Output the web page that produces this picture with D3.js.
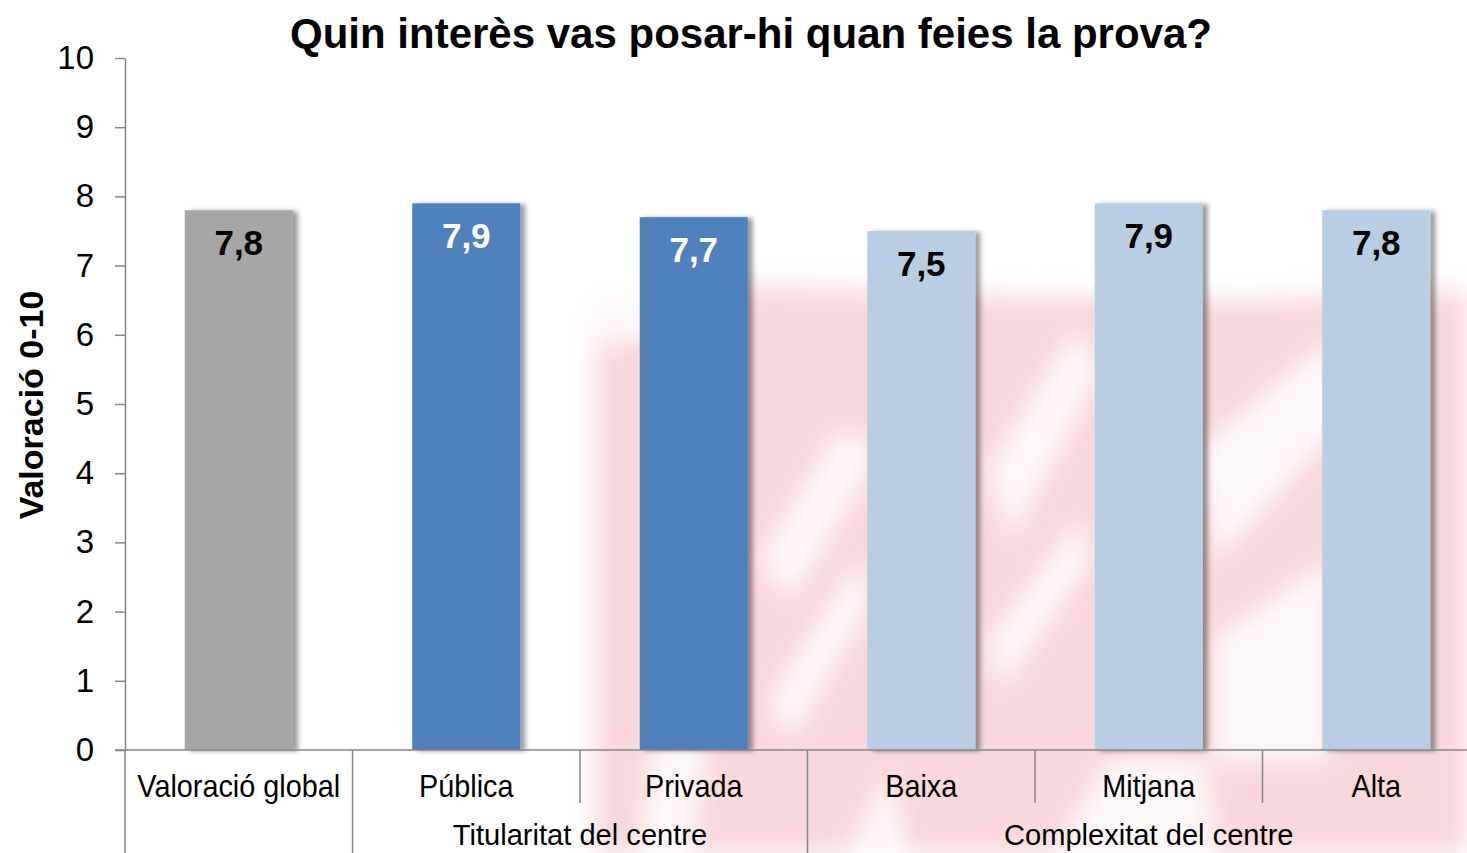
<!DOCTYPE html>
<html>
<head>
<meta charset="utf-8">
<script src="https://cdn.jsdelivr.net/npm/d3@7"></script>
<style>
  body { margin: 0; background: #fff; overflow: hidden; }
  text { font-family: "Liberation Sans", Arial, sans-serif; }
</style>
</head>
<body>
<script>
// chart data
var categories = ["Valoració global", "Pública", "Privada", "Baixa", "Mitjana", "Alta"];
var values = [7.8, 7.9, 7.7, 7.5, 7.9, 7.8];
var groups = ["", "Titularitat del centre", "Titularitat del centre",
              "Complexitat del centre", "Complexitat del centre", "Complexitat del centre"];
var barColors = ["#A6A6A6", "#4F81BD", "#4F81BD", "#B9CDE5", "#B9CDE5", "#B9CDE5"];
var labelColors = ["#000", "#fff", "#fff", "#000", "#000", "#000"];
var yTicks = [0, 1, 2, 3, 4, 5, 6, 7, 8, 9, 10];

var title = "Quin interès vas posar-hi quan feies la prova?",
    ylabel = "Valoració 0-10";

var width = 1467,
    height = 853,
    axisColor = "#868686";

var xScale = d3.scaleBand()
    .domain(categories)
    .range([125, 1490])
    .paddingInner(0.525)
    .paddingOuter(0.2625);

var yScale = d3.scaleLinear()
    .domain([0, 10])
    .range([750, 58]);

var svg = d3.select("body")
    .append("svg")
    .attr("width", width)
    .attr("height", height);

var defs = svg.append("defs");

defs.append("filter")
    .attr("id", "blur")
    .attr("x", "-20%").attr("y", "-20%")
    .attr("width", "140%").attr("height", "140%")
    .append("feGaussianBlur")
    .attr("stdDeviation", 12);

var shadow = defs.append("filter")
    .attr("id", "shadow")
    .attr("x", "-10%").attr("y", "-5%")
    .attr("width", "130%").attr("height", "110%");
shadow.append("feDropShadow")
    .attr("dx", 5).attr("dy", 1)
    .attr("stdDeviation", 2.5)
    .attr("flood-color", "#000")
    .attr("flood-opacity", 0.4);

// faint watermark in the background
var wm = svg.append("g").attr("filter", "url(#blur)");
wm.append("path")
    .attr("d", "M595,300 L760,285 L1000,295 L1250,300 L1467,290 L1467,853 L595,853 Z")
    .attr("fill", "#F8D3D8")
    .attr("opacity", 0.9);
// white streaks through the logo
var streaks = [
    "M640,853 L690,853 L710,720 L680,600 L655,720 Z",
    "M760,560 L840,430 L880,450 L790,600 Z",
    "M770,700 L860,560 L870,600 L790,740 Z",
    "M850,853 L905,853 L890,770 Z",
    "M1055,853 L1215,853 L1205,760 L1110,760 Z",
    "M1200,450 L1330,340 L1345,420 L1215,560 Z",
    "M1215,640 L1330,560 L1330,760 L1215,760 Z",
    "M990,470 L1075,330 L1100,370 L1010,540 Z",
    "M990,640 L1080,520 L1090,560 L1000,690 Z",
    "M595,300 L740,292 L700,330 L600,345 Z"
];
wm.selectAll("path.streak")
    .data(streaks)
    .enter()
    .append("path")
    .attr("class", "streak")
    .attr("d", function(d) { return d; })
    .attr("fill", "#fff")
    .attr("opacity", 0.85);

// y axis
var yAxis = svg.append("g")
    .attr("transform", "translate(125,0)")
    .call(d3.axisLeft(yScale)
        .tickValues(yTicks)
        .tickSize(10)
        .tickSizeOuter(0)
        .tickPadding(21)
        .tickFormat(d3.format("d")));
yAxis.select(".domain").attr("stroke", axisColor).attr("stroke-width", 1.5);
yAxis.selectAll(".tick line").attr("stroke", axisColor).attr("stroke-width", 1.5);
yAxis.selectAll(".tick text")
    .attr("fill", "#000")
    .style("font-size", "33px")
    .style("font-family", "'Liberation Sans', Arial, sans-serif");

// bars
svg.selectAll("rect.bar")
    .data(values)
    .enter()
    .append("rect")
    .attr("class", "bar")
    .attr("x", function(d, i) { return xScale(categories[i]); })
    .attr("y", function(d) { return yScale(d); })
    .attr("width", xScale.bandwidth())
    .attr("height", function(d) { return yScale(0) - yScale(d); })
    .attr("fill", function(d, i) { return barColors[i]; })
    .attr("filter", "url(#shadow)");

// value labels
svg.selectAll("text.value")
    .data(values)
    .enter()
    .append("text")
    .attr("class", "value")
    .attr("x", function(d, i) { return xScale(categories[i]) + xScale.bandwidth() / 2; })
    .attr("y", function(d) { return yScale(d) + 45; })
    .attr("text-anchor", "middle")
    .attr("fill", function(d, i) { return labelColors[i]; })
    .style("font-size", "35px")
    .style("font-weight", "bold")
    .text(function(d) { return d.toFixed(1).replace(".", ","); });

// x axis line
svg.append("line")
    .attr("x1", 115).attr("x2", width)
    .attr("y1", yScale(0)).attr("y2", yScale(0))
    .attr("stroke", axisColor)
    .attr("stroke-width", 1.5);

// category separators: long ones where the group changes
var step = xScale.step(),
    x0 = xScale.range()[0];
categories.forEach(function(c, i) {
    var xb = x0 + i * step;
    var longLine = i === 0 || groups[i] !== groups[i - 1];
    svg.append("line")
        .attr("x1", xb).attr("x2", xb)
        .attr("y1", yScale(0))
        .attr("y2", longLine ? height : 803)
        .attr("stroke", axisColor)
        .attr("stroke-width", 1.5);
});

//labels under the axis are a bit condensed
function condense(sel, squeeze) {
    sel.each(function() {
        var w = this.getComputedTextLength();
        d3.select(this)
            .attr("textLength", w * squeeze)
            .attr("lengthAdjust", "spacingAndGlyphs");
    });
}

// category labels
svg.selectAll("text.cat")
    .data(categories)
    .enter()
    .append("text")
    .attr("class", "cat")
    .attr("x", function(d) { return xScale(d) + xScale.bandwidth() / 2; })
    .attr("y", 797)
    .attr("text-anchor", "middle")
    .attr("fill", "#000")
    .style("font-size", "32px")
    .text(function(d) { return d; })
    .call(condense, 0.9);

// group labels
var groupNames = Array.from(new Set(groups.filter(function(g) { return g !== ""; })));
groupNames.forEach(function(g) {
    var idx = [];
    groups.forEach(function(gg, i) { if (gg === g) idx.push(i); });
    var left = x0 + idx[0] * step,
        right = x0 + (idx[idx.length - 1] + 1) * step;
    svg.append("text")
        .attr("x", (left + right) / 2)
        .attr("y", 845)
        .attr("text-anchor", "middle")
        .attr("fill", "#000")
        .style("font-size", "30px")
        .text(g)
        .call(condense, 0.97);
});

// title
svg.append("text")
    .attr("x", 751)
    .attr("y", 48)
    .attr("text-anchor", "middle")
    .attr("fill", "#000")
    .style("font-size", "42px")
    .style("font-weight", "bold")
    .text(title);

// y label
svg.append("text")
    .attr("transform", "translate(43,405) rotate(-90)")
    .attr("text-anchor", "middle")
    .attr("fill", "#000")
    .style("font-size", "34px")
    .style("font-weight", "bold")
    .text(ylabel);
</script>
</body>
</html>
